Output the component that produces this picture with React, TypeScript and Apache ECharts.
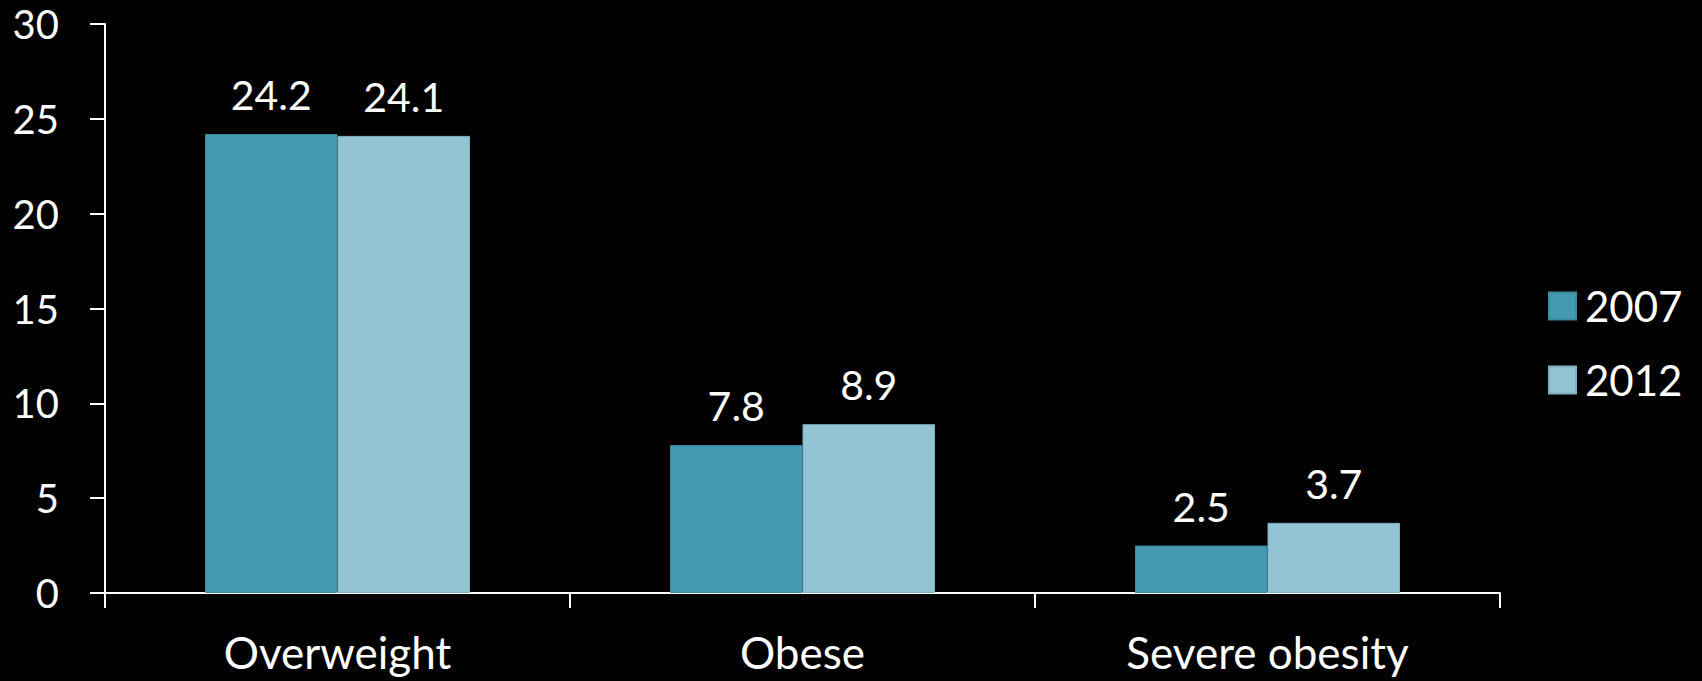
import React, { useEffect, useRef } from "react";
import * as echarts from "echarts";

const categories = ["Overweight", "Obese", "Severe obesity"];
const seriesNames = ["2007", "2012"];
const values2007 = [24.2, 7.8, 2.5];
const values2012 = [24.1, 8.9, 3.7];
const yTicks = { min: 0, max: 30, interval: 5 };

const FONT = "Lato, 'Open Sans', sans-serif";

export default function App() {
  const ref = useRef<HTMLDivElement>(null);
  useEffect(() => {
    if (!ref.current) return;
    const chart = echarts.init(ref.current, null, { renderer: "svg" });
    const labelStyle = {
      show: true,
      position: "top" as const,
      distance: 19,
      color: "#ffffff",
      fontFamily: FONT,
      fontSize: 41,
      lineHeight: 41,
    };
    chart.setOption({
      animation: false,
      backgroundColor: "#000000",
      textStyle: { fontFamily: FONT },
      grid: { left: 105, right: 202, top: 24, bottom: 88, containLabel: false },
      legend: {
        orient: "vertical",
        left: 1548,
        top: 284,
        padding: 0,
        itemWidth: 27,
        itemHeight: 27,
        itemGap: 30,
        icon: "rect",
        data: seriesNames,
        textStyle: {
          color: "#ffffff",
          fontFamily: FONT,
          fontSize: 42,
          lineHeight: 44,
          padding: [0, 0, 0, 4],
        },
      },
      xAxis: {
        type: "category",
        data: categories,
        axisLine: { show: true, lineStyle: { color: "#ffffff", width: 2 } },
        axisTick: { show: true, length: 15, lineStyle: { color: "#ffffff", width: 2 } },
        axisLabel: {
          color: "#ffffff",
          fontFamily: FONT,
          fontSize: 44,
          lineHeight: 44,
          margin: 37,
        },
      },
      yAxis: {
        type: "value",
        min: yTicks.min,
        max: yTicks.max,
        interval: yTicks.interval,
        splitLine: { show: false },
        axisLine: { show: true, lineStyle: { color: "#ffffff", width: 2 } },
        axisTick: { show: true, length: 15, lineStyle: { color: "#ffffff", width: 2 } },
        axisLabel: {
          color: "#ffffff",
          fontFamily: FONT,
          fontSize: 40,
          margin: 46,
        },
      },
      series: [
        {
          name: seriesNames[0],
          type: "bar",
          data: values2007,
          barGap: "0%",
          barCategoryGap: "43%",
          itemStyle: { color: "#4599B1", borderColor: "#3a8aa0", borderWidth: 1 },
          label: labelStyle,
        },
        {
          name: seriesNames[1],
          type: "bar",
          data: values2012,
          barGap: "0%",
          barCategoryGap: "43%",
          itemStyle: { color: "#93C4D4", borderColor: "#7fb0c2", borderWidth: 1 },
          label: labelStyle,
        },
      ],
    });
    return () => chart.dispose();
  }, []);
  return (
    <div
      ref={ref}
      style={{ position: "fixed", left: 0, top: 0, width: 1702, height: 681 }}
    />
  );
}
